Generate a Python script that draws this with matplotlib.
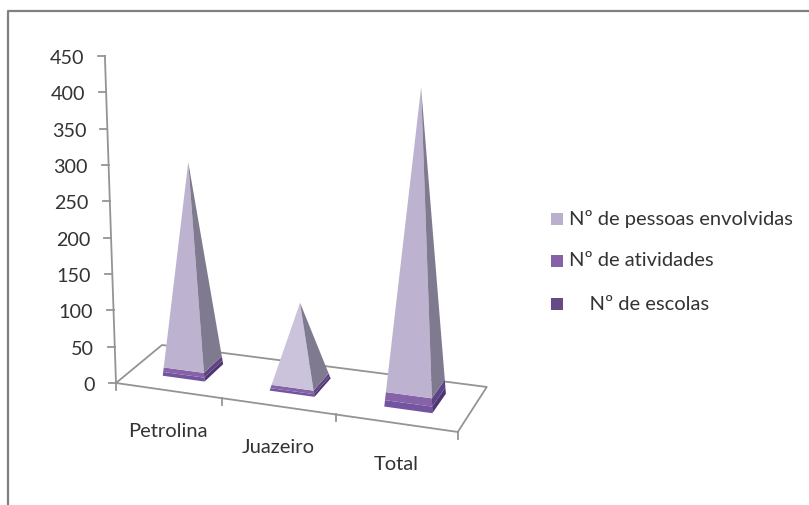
import matplotlib
matplotlib.use("Agg")
import matplotlib.pyplot as plt
from matplotlib.patches import Polygon, Rectangle

plt.rcParams['font.family'] = ['Lato', 'DejaVu Sans']

categories = ["Petrolina", "Juazeiro", "Total"]
escolas = [5, 3, 8]
atividades = [6, 4, 10]
pessoas = [270, 100, 378]
y_ticks = [0, 50, 100, 150, 200, 250, 300, 350, 400, 450]

series_names = ["Nº de pessoas envolvidas", "Nº de atividades", "    Nº de escolas"]
# the smaller pyramid catches more light, so its big face is paler
pessoas_fronts = ["#BDB3D0", "#CBC3DC", "#BDB3D0"]
front_colors = [None, "#8663A9", "#7354A0"]
side_colors = ["#807A90", "#5E4385", "#4C3570"]
legend_colors = ["#BAAFCC", "#8562A8", "#664A88"]

GRAY = "#949494"
TEXT = "#333333"

# floor corners of the fake 3D box, in pixels
FRONT_LEFT = (116, 383)
FRONT_RIGHT = (458, 432)
BACK_LEFT = (162, 345)
BACK_RIGHT = (487, 387)


def floor(u, v):
    # u runs along the categories (0..3), v goes into the depth (0..1)
    t = 0.298 * u + 0.0117 * u * u
    fx = FRONT_LEFT[0] + (FRONT_RIGHT[0] - FRONT_LEFT[0]) * t
    fy = FRONT_LEFT[1] + (FRONT_RIGHT[1] - FRONT_LEFT[1]) * t
    bx = BACK_LEFT[0] + (BACK_RIGHT[0] - BACK_LEFT[0]) * t
    by = BACK_LEFT[1] + (BACK_RIGHT[1] - BACK_LEFT[1]) * t
    return fx + (bx - fx) * v, fy + (by - fy) * v


def project(u, v, value):
    # vertical scale and lean change a bit along the floor (perspective)
    scale = 0.727 + 0.025 * u
    lean = -0.034 + 0.021 * u
    x, y = floor(u, v)
    return x + lean * scale * value, y - scale * value


fig = plt.figure(figsize=(8.09, 5.05), dpi=100)
ax = fig.add_axes([0, 0, 1, 1])
ax.set_xlim(0, 809)
ax.set_ylim(505, 0)
ax.axis("off")

# outer chart border, only top and left are visible
ax.plot([8, 8, 809], [505, 11, 11], color="#808080", lw=1.6, solid_capstyle="butt")

# floor outline
corners = [floor(0, 0), floor(3, 0), floor(3, 1), floor(0, 1), floor(0, 0)]
ax.plot([c[0] for c in corners], [c[1] for c in corners], color=GRAY, lw=1.3)

# value axis with ticks and labels
bottom = project(0, 0, y_ticks[0])
top = project(0, 0, y_ticks[-1])
ax.plot([bottom[0], top[0]], [bottom[1], top[1]], color=GRAY, lw=1.3)
for tick in y_ticks:
    x, y = project(0, 0, tick)
    ax.plot([x - 7, x], [y, y], color=GRAY, lw=1.3)
    ax.text(x - 21, y + 2.5, str(tick), ha="right", va="center", fontsize=14.2, color=TEXT)

# category ticks and labels
for i in range(4):
    x, y = floor(i, 0)
    ax.plot([x, x], [y, y + 7], color=GRAY, lw=1.3)
for i, name in enumerate(categories):
    x, y = floor(i + 0.5, 0)
    ax.text(x, y + 41, name, ha="center", va="center", fontsize=14.5, color=TEXT)


def corner(center_u, center_v, half_u, half_v, su, sv, value, total):
    # corner of the pyramid section at a given height
    k = 1 - value / total
    return project(center_u + su * half_u * k, center_v + sv * half_v * k, value)


# pyramids: one stack per category, narrowing to an apex at the total
for i in range(len(categories)):
    stack = [escolas[i], atividades[i], pessoas[i]]
    total = sum(stack)
    cu = i + 0.52
    cv = 0.53
    low = 0
    for value, s_idx in zip(stack, [2, 1, 0]):
        high = low + value
        front = [corner(cu, cv, 0.2, 0.22, -1, -1, low, total),
                 corner(cu, cv, 0.2, 0.22, 1, -1, low, total),
                 corner(cu, cv, 0.2, 0.22, 1, -1, high, total),
                 corner(cu, cv, 0.2, 0.22, -1, -1, high, total)]
        side = [corner(cu, cv, 0.2, 0.22, 1, -1, low, total),
                corner(cu, cv, 0.2, 0.22, 1, 1, low, total),
                corner(cu, cv, 0.2, 0.22, 1, 1, high, total),
                corner(cu, cv, 0.2, 0.22, 1, -1, high, total)]
        face = pessoas_fronts[i] if s_idx == 0 else front_colors[s_idx]
        ax.add_patch(Polygon(front, closed=True, fc=face, ec="none", zorder=3))
        ax.add_patch(Polygon(side, closed=True, fc=side_colors[s_idx], ec="none", zorder=3))
        low = high

# legend
for name, color, y in zip(series_names, legend_colors, [219, 261, 304]):
    ax.add_patch(Rectangle((551, y - 6), 12, 12, fc=color, ec="none"))
    ax.text(569, y, name, ha="left", va="center", fontsize=14.5, color=TEXT)

fig.savefig("out.png", dpi=100)
